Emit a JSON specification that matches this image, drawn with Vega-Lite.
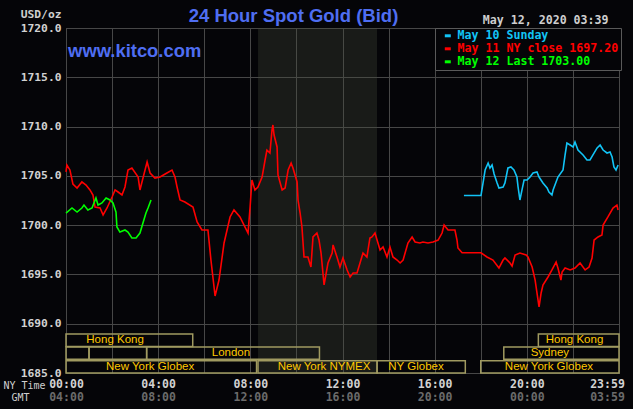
{
  "$schema": "https://vega.github.io/schema/vega-lite/v6.json",
  "width": 553,
  "height": 345,
  "autosize": "none",
  "padding": {"left": 66, "top": 28, "right": 14, "bottom": 36},
  "background": "#050508",
  "title": {"text": "24 Hour Spot Gold (Bid)", "font": "Liberation Sans", "fontSize": 18.5, "fontWeight": "bold", "color": "#4f6ef2", "anchor": "middle", "frame": "group", "dx": -49, "dy": 21, "offset": 4},
  "config": {
    "view": {"stroke": "#5a5a5a", "strokeWidth": 1, "fill": "#050508"},
    "axis": {"gridColor": "#474747", "gridWidth": 1, "domain": false, "ticks": false, "labelFont": "DejaVu Sans Mono", "labelFontWeight": "bold", "labelFontSize": 11.5, "labelColor": "#d2d2d2", "titleFont": "DejaVu Sans Mono", "titleFontWeight": "normal", "titleFontSize": 10, "titleColor": "#cfcfcf"}
  },
  "resolve": {"axis": {"x": "independent"}},
  "datasets": {
    "shade": [{"start": 8.333, "end": 13.5}],
    "sessions": [
      {"lo": 1687.7, "hi": 1688.95, "start": 0, "end": 5.5, "label": "Hong Kong", "lx": 2.13, "ly": 1688.33},
      {"lo": 1687.7, "hi": 1688.95, "start": 20.5, "end": 24, "label": "Hong Kong", "lx": 22.07, "ly": 1688.33},
      {"lo": 1686.4, "hi": 1687.65, "start": 0, "end": 1, "label": "", "lx": 0.5, "ly": 1687.03},
      {"lo": 1686.4, "hi": 1687.65, "start": 1, "end": 3.5, "label": "", "lx": 2.25, "ly": 1687.03},
      {"lo": 1686.4, "hi": 1687.65, "start": 3.5, "end": 11, "label": "London", "lx": 7.16, "ly": 1687.03},
      {"lo": 1686.4, "hi": 1687.65, "start": 19, "end": 24, "label": "Sydney", "lx": 21.0, "ly": 1687.03},
      {"lo": 1685.0, "hi": 1686.25, "start": 0, "end": 8.27, "label": "New York Globex", "lx": 3.65, "ly": 1685.63},
      {"lo": 1685.0, "hi": 1686.25, "start": 8.333, "end": 13.5, "label": "New York NYMEX", "lx": 11.2, "ly": 1685.63},
      {"lo": 1685.0, "hi": 1686.25, "start": 13.5, "end": 17.33, "label": "NY Globex", "lx": 15.19, "ly": 1685.63},
      {"lo": 1685.0, "hi": 1686.25, "start": 18, "end": 24, "label": "New York Globex", "lx": 20.96, "ly": 1685.63}
    ],
    "site": [{"t": 0.09, "p": 1717.06, "txt": "www.kitco.com"}],
    "prices": [
      {"series": "May 11", "t": 0.00, "p": 1705.4}, {"series": "May 11", "t": 0.04, "p": 1706.1}, {"series": "May 11", "t": 0.17, "p": 1705.6}, {"series": "May 11", "t": 0.30, "p": 1704.17}, {"series": "May 11", "t": 0.48, "p": 1703.77}, {"series": "May 11", "t": 0.69, "p": 1704.38}, {"series": "May 11", "t": 0.87, "p": 1704.07}, {"series": "May 11", "t": 1.04, "p": 1703.57}, {"series": "May 11", "t": 1.17, "p": 1703.06}, {"series": "May 11", "t": 1.26, "p": 1701.84}, {"series": "May 11", "t": 1.48, "p": 1701.74}, {"series": "May 11", "t": 1.61, "p": 1701.03}, {"series": "May 11", "t": 1.78, "p": 1701.74}, {"series": "May 11", "t": 2.00, "p": 1702.85}, {"series": "May 11", "t": 2.13, "p": 1703.57}, {"series": "May 11", "t": 2.26, "p": 1703.36}, {"series": "May 11", "t": 2.43, "p": 1703.06}, {"series": "May 11", "t": 2.56, "p": 1703.87}, {"series": "May 11", "t": 2.69, "p": 1705.59}, {"series": "May 11", "t": 2.86, "p": 1705.80}, {"series": "May 11", "t": 3.13, "p": 1704.88}, {"series": "May 11", "t": 3.21, "p": 1703.57}, {"series": "May 11", "t": 3.43, "p": 1705.59}, {"series": "May 11", "t": 3.52, "p": 1706.41}, {"series": "May 11", "t": 3.65, "p": 1705.29}, {"series": "May 11", "t": 3.86, "p": 1704.78}, {"series": "May 11", "t": 4.08, "p": 1704.88}, {"series": "May 11", "t": 4.38, "p": 1705.29}, {"series": "May 11", "t": 4.60, "p": 1705.59}, {"series": "May 11", "t": 4.73, "p": 1704.88}, {"series": "May 11", "t": 4.82, "p": 1703.87}, {"series": "May 11", "t": 4.95, "p": 1702.55}, {"series": "May 11", "t": 5.16, "p": 1702.35}, {"series": "May 11", "t": 5.51, "p": 1701.84}, {"series": "May 11", "t": 5.69, "p": 1700.32}, {"series": "May 11", "t": 5.90, "p": 1699.51}, {"series": "May 11", "t": 6.16, "p": 1699.51}, {"series": "May 11", "t": 6.29, "p": 1696.46}, {"series": "May 11", "t": 6.47, "p": 1692.81}, {"series": "May 11", "t": 6.64, "p": 1694.43}, {"series": "May 11", "t": 6.86, "p": 1698.19}, {"series": "May 11", "t": 7.12, "p": 1700.83}, {"series": "May 11", "t": 7.29, "p": 1701.54}, {"series": "May 11", "t": 7.55, "p": 1700.83}, {"series": "May 11", "t": 7.77, "p": 1699.81}, {"series": "May 11", "t": 7.90, "p": 1699.20}, {"series": "May 11", "t": 7.99, "p": 1701.84}, {"series": "May 11", "t": 8.07, "p": 1704.58}, {"series": "May 11", "t": 8.20, "p": 1703.57}, {"series": "May 11", "t": 8.33, "p": 1703.87}, {"series": "May 11", "t": 8.51, "p": 1704.88}, {"series": "May 11", "t": 8.64, "p": 1706.61}, {"series": "May 11", "t": 8.72, "p": 1707.62}, {"series": "May 11", "t": 8.85, "p": 1707.32}, {"series": "May 11", "t": 8.94, "p": 1709.65}, {"series": "May 11", "t": 8.98, "p": 1710.16}, {"series": "May 11", "t": 9.03, "p": 1709.14}, {"series": "May 11", "t": 9.16, "p": 1707.93}, {"series": "May 11", "t": 9.20, "p": 1705.09}, {"series": "May 11", "t": 9.38, "p": 1703.57}, {"series": "May 11", "t": 9.51, "p": 1703.77}, {"series": "May 11", "t": 9.64, "p": 1705.59}, {"series": "May 11", "t": 9.77, "p": 1706.30}, {"series": "May 11", "t": 9.85, "p": 1705.80}, {"series": "May 11", "t": 10.03, "p": 1704.38}, {"series": "May 11", "t": 10.07, "p": 1702.55}, {"series": "May 11", "t": 10.16, "p": 1701.23}, {"series": "May 11", "t": 10.24, "p": 1699.81}, {"series": "May 11", "t": 10.33, "p": 1696.77}, {"series": "May 11", "t": 10.50, "p": 1696.77}, {"series": "May 11", "t": 10.63, "p": 1695.75}, {"series": "May 11", "t": 10.72, "p": 1698.80}, {"series": "May 11", "t": 10.89, "p": 1699.20}, {"series": "May 11", "t": 10.98, "p": 1698.49}, {"series": "May 11", "t": 11.07, "p": 1697.17}, {"series": "May 11", "t": 11.20, "p": 1693.93}, {"series": "May 11", "t": 11.37, "p": 1696.16}, {"series": "May 11", "t": 11.55, "p": 1697.17}, {"series": "May 11", "t": 11.59, "p": 1697.99}, {"series": "May 11", "t": 11.76, "p": 1696.77}, {"series": "May 11", "t": 11.89, "p": 1695.75}, {"series": "May 11", "t": 12.02, "p": 1696.67}, {"series": "May 11", "t": 12.20, "p": 1695.45}, {"series": "May 11", "t": 12.33, "p": 1694.74}, {"series": "May 11", "t": 12.46, "p": 1695.14}, {"series": "May 11", "t": 12.63, "p": 1695.14}, {"series": "May 11", "t": 12.76, "p": 1696.16}, {"series": "May 11", "t": 12.89, "p": 1697.17}, {"series": "May 11", "t": 13.06, "p": 1696.77}, {"series": "May 11", "t": 13.19, "p": 1698.70}, {"series": "May 11", "t": 13.28, "p": 1698.80}, {"series": "May 11", "t": 13.41, "p": 1699.20}, {"series": "May 11", "t": 13.50, "p": 1698.49}, {"series": "May 11", "t": 13.63, "p": 1697.48}, {"series": "May 11", "t": 13.76, "p": 1697.78}, {"series": "May 11", "t": 13.93, "p": 1696.77}, {"series": "May 11", "t": 14.06, "p": 1697.78}, {"series": "May 11", "t": 14.19, "p": 1696.77}, {"series": "May 11", "t": 14.37, "p": 1696.46}, {"series": "May 11", "t": 14.50, "p": 1696.16}, {"series": "May 11", "t": 14.63, "p": 1696.46}, {"series": "May 11", "t": 14.84, "p": 1698.19}, {"series": "May 11", "t": 15.02, "p": 1698.80}, {"series": "May 11", "t": 15.15, "p": 1698.29}, {"series": "May 11", "t": 15.36, "p": 1698.19}, {"series": "May 11", "t": 15.49, "p": 1698.29}, {"series": "May 11", "t": 15.71, "p": 1698.19}, {"series": "May 11", "t": 15.93, "p": 1698.29}, {"series": "May 11", "t": 16.15, "p": 1698.49}, {"series": "May 11", "t": 16.32, "p": 1699.20}, {"series": "May 11", "t": 16.41, "p": 1700.01}, {"series": "May 11", "t": 16.58, "p": 1699.51}, {"series": "May 11", "t": 16.75, "p": 1699.51}, {"series": "May 11", "t": 16.88, "p": 1699.51}, {"series": "May 11", "t": 16.97, "p": 1698.49}, {"series": "May 11", "t": 17.01, "p": 1697.68}, {"series": "May 11", "t": 17.19, "p": 1697.2}, {"series": "May 11", "t": 18.01, "p": 1697.2}, {"series": "May 11", "t": 18.27, "p": 1696.77}, {"series": "May 11", "t": 18.53, "p": 1696.46}, {"series": "May 11", "t": 18.79, "p": 1695.65}, {"series": "May 11", "t": 18.97, "p": 1696.46}, {"series": "May 11", "t": 19.05, "p": 1696.67}, {"series": "May 11", "t": 19.27, "p": 1696.16}, {"series": "May 11", "t": 19.36, "p": 1695.85}, {"series": "May 11", "t": 19.49, "p": 1696.97}, {"series": "May 11", "t": 19.70, "p": 1697.17}, {"series": "May 11", "t": 19.97, "p": 1696.97}, {"series": "May 11", "t": 20.05, "p": 1696.77}, {"series": "May 11", "t": 20.23, "p": 1695.75}, {"series": "May 11", "t": 20.36, "p": 1694.43}, {"series": "May 11", "t": 20.44, "p": 1693.12}, {"series": "May 11", "t": 20.53, "p": 1691.70}, {"series": "May 11", "t": 20.62, "p": 1693.12}, {"series": "May 11", "t": 20.70, "p": 1693.93}, {"series": "May 11", "t": 20.92, "p": 1694.74}, {"series": "May 11", "t": 21.09, "p": 1695.45}, {"series": "May 11", "t": 21.27, "p": 1696.26}, {"series": "May 11", "t": 21.35, "p": 1695.65}, {"series": "May 11", "t": 21.48, "p": 1694.43}, {"series": "May 11", "t": 21.53, "p": 1695.25}, {"series": "May 11", "t": 21.66, "p": 1695.65}, {"series": "May 11", "t": 21.88, "p": 1695.45}, {"series": "May 11", "t": 22.09, "p": 1695.65}, {"series": "May 11", "t": 22.31, "p": 1696.16}, {"series": "May 11", "t": 22.53, "p": 1695.45}, {"series": "May 11", "t": 22.70, "p": 1695.75}, {"series": "May 11", "t": 22.83, "p": 1696.67}, {"series": "May 11", "t": 22.92, "p": 1698.49}, {"series": "May 11", "t": 23.09, "p": 1698.80}, {"series": "May 11", "t": 23.26, "p": 1699.00}, {"series": "May 11", "t": 23.31, "p": 1700.01}, {"series": "May 11", "t": 23.52, "p": 1700.83}, {"series": "May 11", "t": 23.74, "p": 1701.74}, {"series": "May 11", "t": 23.91, "p": 1702.04}, {"series": "May 11", "t": 23.96, "p": 1701.54},
      {"series": "May 10", "t": 17.27, "p": 1703.0}, {"series": "May 10", "t": 18.01, "p": 1703.0}, {"series": "May 10", "t": 18.10, "p": 1704.28}, {"series": "May 10", "t": 18.19, "p": 1705.59}, {"series": "May 10", "t": 18.32, "p": 1706.30}, {"series": "May 10", "t": 18.40, "p": 1705.80}, {"series": "May 10", "t": 18.49, "p": 1706.10}, {"series": "May 10", "t": 18.58, "p": 1705.19}, {"series": "May 10", "t": 18.71, "p": 1704.28}, {"series": "May 10", "t": 18.79, "p": 1703.77}, {"series": "May 10", "t": 18.97, "p": 1703.87}, {"series": "May 10", "t": 19.05, "p": 1704.28}, {"series": "May 10", "t": 19.18, "p": 1705.80}, {"series": "May 10", "t": 19.31, "p": 1705.90}, {"series": "May 10", "t": 19.44, "p": 1705.59}, {"series": "May 10", "t": 19.57, "p": 1704.88}, {"series": "May 10", "t": 19.62, "p": 1703.87}, {"series": "May 10", "t": 19.70, "p": 1702.55}, {"series": "May 10", "t": 19.79, "p": 1703.57}, {"series": "May 10", "t": 19.88, "p": 1704.58}, {"series": "May 10", "t": 20.01, "p": 1704.58}, {"series": "May 10", "t": 20.14, "p": 1704.88}, {"series": "May 10", "t": 20.27, "p": 1705.29}, {"series": "May 10", "t": 20.44, "p": 1705.39}, {"series": "May 10", "t": 20.53, "p": 1704.88}, {"series": "May 10", "t": 20.70, "p": 1704.28}, {"series": "May 10", "t": 20.88, "p": 1703.77}, {"series": "May 10", "t": 20.96, "p": 1703.36}, {"series": "May 10", "t": 21.09, "p": 1703.06}, {"series": "May 10", "t": 21.14, "p": 1703.57}, {"series": "May 10", "t": 21.35, "p": 1704.88}, {"series": "May 10", "t": 21.57, "p": 1705.59}, {"series": "May 10", "t": 21.66, "p": 1707.12}, {"series": "May 10", "t": 21.74, "p": 1708.33}, {"series": "May 10", "t": 21.88, "p": 1708.13}, {"series": "May 10", "t": 22.01, "p": 1707.93}, {"series": "May 10", "t": 22.09, "p": 1708.43}, {"series": "May 10", "t": 22.22, "p": 1707.62}, {"series": "May 10", "t": 22.44, "p": 1707.12}, {"series": "May 10", "t": 22.61, "p": 1706.61}, {"series": "May 10", "t": 22.74, "p": 1706.61}, {"series": "May 10", "t": 22.87, "p": 1707.12}, {"series": "May 10", "t": 23.05, "p": 1707.83}, {"series": "May 10", "t": 23.18, "p": 1708.13}, {"series": "May 10", "t": 23.31, "p": 1707.62}, {"series": "May 10", "t": 23.48, "p": 1707.32}, {"series": "May 10", "t": 23.61, "p": 1707.42}, {"series": "May 10", "t": 23.70, "p": 1706.91}, {"series": "May 10", "t": 23.78, "p": 1705.90}, {"series": "May 10", "t": 23.87, "p": 1705.59}, {"series": "May 10", "t": 23.96, "p": 1706.10},
      {"series": "May 12", "t": 0.00, "p": 1701.23}, {"series": "May 12", "t": 0.26, "p": 1701.74}, {"series": "May 12", "t": 0.48, "p": 1701.33}, {"series": "May 12", "t": 0.69, "p": 1701.74}, {"series": "May 12", "t": 0.78, "p": 1702.04}, {"series": "May 12", "t": 0.95, "p": 1701.54}, {"series": "May 12", "t": 1.13, "p": 1701.74}, {"series": "May 12", "t": 1.30, "p": 1702.75}, {"series": "May 12", "t": 1.39, "p": 1702.04}, {"series": "May 12", "t": 1.56, "p": 1702.25}, {"series": "May 12", "t": 1.74, "p": 1702.75}, {"series": "May 12", "t": 1.91, "p": 1702.55}, {"series": "May 12", "t": 2.04, "p": 1702.25}, {"series": "May 12", "t": 2.17, "p": 1701.33}, {"series": "May 12", "t": 2.21, "p": 1699.81}, {"series": "May 12", "t": 2.34, "p": 1699.30}, {"series": "May 12", "t": 2.56, "p": 1699.51}, {"series": "May 12", "t": 2.69, "p": 1699.30}, {"series": "May 12", "t": 2.86, "p": 1698.70}, {"series": "May 12", "t": 3.04, "p": 1698.70}, {"series": "May 12", "t": 3.21, "p": 1699.20}, {"series": "May 12", "t": 3.34, "p": 1700.22}, {"series": "May 12", "t": 3.47, "p": 1701.23}, {"series": "May 12", "t": 3.56, "p": 1701.74}, {"series": "May 12", "t": 3.69, "p": 1702.55}
    ]
  },
  "layer": [
    {
      "data": {"name": "shade"},
      "mark": {"type": "rect", "fill": "#484e40", "opacity": 0.3},
      "encoding": {
        "x": {"field": "start", "type": "quantitative", "scale": {"domain": [0, 24], "nice": false, "zero": false},
          "axis": {"values": [0, 2, 4, 6, 8, 10, 12, 14, 16, 18, 20, 22, 24], "grid": true,
            "labelExpr": "datum.value == 24 ? '23:59' : (datum.value % 4 == 0 ? (datum.value < 10 ? '0' : '') + datum.value + ':00' : '')",
            "labelFlush": false, "labelOverlap": false, "labelPadding": 5,
            "labelOffset": {"condition": {"test": "datum.value == 24", "value": -12}, "value": 0},
            "title": "NY Time", "titleAngle": 0, "titleAlign": "left", "titleBaseline": "middle", "titleX": -63, "titleY": 12}},
        "x2": {"field": "end"}
      }
    },
    {
      "data": {"name": "sessions"},
      "mark": {"type": "rect", "filled": false, "stroke": "#a09a60", "strokeWidth": 1.5},
      "encoding": {
        "x": {"field": "start", "type": "quantitative", "scale": {"domain": [0, 24], "nice": false, "zero": false}, "axis": null},
        "x2": {"field": "end"},
        "y": {"field": "lo", "type": "quantitative", "scale": {"domain": [1685, 1720], "nice": false, "zero": false}, "title": "USD/oz"},
        "y2": {"field": "hi"}
      }
    },
    {
      "data": {"name": "sessions"},
      "mark": {"type": "text", "font": "Liberation Sans", "fontSize": 11.5, "color": "#ffc800", "align": "center", "baseline": "middle"},
      "encoding": {
        "x": {"field": "lx", "type": "quantitative", "scale": {"domain": [0, 24], "nice": false, "zero": false}, "axis": null},
        "y": {"field": "ly", "type": "quantitative", "scale": {"domain": [1685, 1720], "nice": false, "zero": false}, "title": "USD/oz"},
        "text": {"field": "label"}
      }
    },
    {
      "data": {"name": "site"},
      "mark": {"type": "text", "font": "Liberation Sans", "fontSize": 18.4, "fontWeight": "bold", "color": "#4f6ef2", "align": "left", "baseline": "alphabetic"},
      "encoding": {
        "x": {"field": "t", "type": "quantitative", "scale": {"domain": [0, 24], "nice": false, "zero": false},
          "axis": {"orient": "top", "labels": false, "grid": false, "ticks": false, "domain": false, "title": "May 12, 2020 03:39", "titleAngle": 0, "titleAlign": "right", "titleBaseline": "middle", "titleX": 542, "titleY": -8, "titleFontWeight": "bold", "titleFontSize": 11.6, "titleColor": "#cfcfcf"}},
        "y": {"field": "p", "type": "quantitative", "scale": {"domain": [1685, 1720], "nice": false, "zero": false}, "title": "USD/oz"},
        "text": {"field": "txt"}
      }
    },
    {
      "data": {"name": "prices"},
      "mark": {"type": "line", "strokeWidth": 1.6},
      "encoding": {
        "x": {"field": "t", "type": "quantitative", "scale": {"domain": [0, 24], "nice": false, "zero": false},
          "axis": {"orient": "bottom", "offset": 13, "values": [0, 4, 8, 12, 16, 20, 24], "grid": false,
            "labelExpr": "datum.value == 24 ? '03:59' : datum.value == 0 ? '04:00' : datum.value == 4 ? '08:00' : datum.value == 8 ? '12:00' : datum.value == 12 ? '16:00' : datum.value == 16 ? '20:00' : '00:00'",
            "labelColor": "#6b6b6b", "labelFlush": false, "labelOverlap": false, "labelPadding": 5,
            "labelOffset": {"condition": {"test": "datum.value == 24", "value": -12}, "value": 0},
            "title": "GMT", "titleAngle": 0, "titleAlign": "left", "titleBaseline": "middle", "titleX": -55, "titleY": 11}},
        "y": {"field": "p", "type": "quantitative", "scale": {"domain": [1685, 1720], "nice": false, "zero": false},
          "title": "USD/oz",
          "axis": {"values": [1685, 1690, 1695, 1700, 1705, 1710, 1715, 1720], "format": ".1f", "grid": true, "labelPadding": 5, "labelFontSize": 11.3,
            "titleAngle": 0, "titleAlign": "right", "titleBaseline": "middle", "titleX": -5, "titleY": -14, "titleFontWeight": "bold", "titleFontSize": 11.3}},
        "color": {"field": "series", "type": "nominal",
          "scale": {"domain": ["May 10", "May 11", "May 12"], "range": ["#12c4f6", "#ff0000", "#00ff00"]},
          "legend": {"orient": "none", "legendX": 369, "legendY": 0, "title": null, "symbolType": "stroke", "symbolStrokeWidth": 3, "symbolSize": 36, "symbolOffset": 5, "labelOffset": 4,
            "labelExpr": "datum.value == 'May 10' ? 'May 10 Sunday' : datum.value == 'May 11' ? 'May 11 NY close 1697.20' : 'May 12 Last 1703.00'",
            "labelFont": "DejaVu Sans Mono", "labelFontWeight": "bold", "labelFontSize": 11.6, "labelLimit": 300,
            "labelColor": {"expr": "datum.value == 'May 10' ? '#12c4f6' : datum.value == 'May 11' ? '#ff0000' : '#00ff00'"},
            "padding": 2, "rowPadding": 0, "strokeColor": "#5a5a5a", "fillColor": "#050508"}}
      }
    }
  ]
}
